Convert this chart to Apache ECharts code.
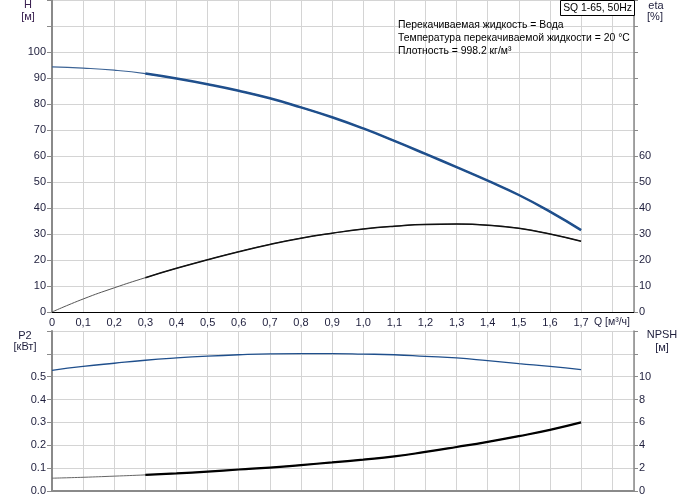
<!DOCTYPE html>
<html>
<head>
<meta charset="utf-8">
<script src="https://cdn.jsdelivr.net/npm/echarts@6/dist/echarts.min.js"></script>
<style>html,body{margin:0;padding:0;background:#fff;}#c{width:691px;height:500px;}</style>
</head>
<body>
<div id="c"></div>
<script>
// Flow Q [m3/h]
const Q = [0, 0.1, 0.2, 0.3, 0.4, 0.5, 0.6, 0.7, 0.8, 0.9, 1.0, 1.1, 1.2, 1.3, 1.4, 1.5, 1.6, 1.7];
// Head H [m]
const H = [94.3, 93.8, 93.0, 91.7, 89.8, 87.6, 85.1, 82.2, 78.7, 74.9, 70.6, 65.8, 60.8, 55.7, 50.5, 45.0, 38.6, 31.5];
// Efficiency eta [%]
const ETA = [0, 5.0, 9.3, 13.2, 16.8, 20.1, 23.2, 26.0, 28.4, 30.3, 31.9, 33.0, 33.7, 33.8, 33.4, 32.2, 30.0, 27.2];
// Power P2 [kW]
const P2 = [0.528, 0.545, 0.559, 0.572, 0.582, 0.590, 0.596, 0.600, 0.601, 0.601, 0.599, 0.596, 0.589, 0.582, 0.570, 0.557, 0.545, 0.531];
// NPSH [m]
const NPSH = [1.12, 1.2, 1.3, 1.41, 1.54, 1.7, 1.88, 2.05, 2.27, 2.5, 2.75, 3.03, 3.42, 3.85, 4.3, 4.8, 5.35, 6.0];

const START_THICK = 3; // index where the bold part of the curves begins

const pairs = (ys, from) => Q.map((q, i) => [q, ys[i]]).slice(from || 0);

const FONT = 'Liberation Sans, Arial, sans-serif';
const TXT = '#1e1e3c';
const GRID_C = '#d4d4d4';
const AXIS_C = '#8a8a8a';
const BLUE = '#1f4f8c';

const xFmt = v => {
  if (v > 1.75) return '';
  if (Math.abs(v) < 1e-9) return '0';
  return v.toFixed(1).replace('.', ',');
};

const chart = echarts.init(document.getElementById('c'), null, {renderer: 'canvas'});

chart.setOption({
  animation: false,
  backgroundColor: '#fff',
  textStyle: {fontFamily: FONT},
  grid: [
    {left: 52, right: 57, top: 0, height: 312},
    {left: 52, right: 57, top: 331, height: 160}
  ],
  xAxis: [
    {
      gridIndex: 0, type: 'value', min: 0, max: 1.87, interval: 0.1,
      axisLine: {lineStyle: {color: '#000', width: 1}},
      axisTick: {show: false},
      axisLabel: {formatter: xFmt, color: TXT, fontSize: 11, fontFamily: FONT, margin: 5, showMaxLabel: false},
      splitLine: {show: true, lineStyle: {color: GRID_C, width: 1}}
    },
    {
      gridIndex: 1, type: 'value', min: 0, max: 1.87, interval: 0.1,
      axisLine: {lineStyle: {color: AXIS_C, width: 2}},
      axisTick: {show: false},
      axisLabel: {show: false},
      splitLine: {show: true, lineStyle: {color: GRID_C, width: 1}}
    }
  ],
  yAxis: [
    {
      gridIndex: 0, type: 'value', min: 0, max: 120, interval: 10, position: 'left',
      axisLine: {show: true, lineStyle: {color: AXIS_C, width: 2}},
      axisTick: {show: true, length: 5, lineStyle: {color: AXIS_C}},
      axisLabel: {formatter: v => v <= 100 ? String(v) : '', color: TXT, fontSize: 11, fontFamily: FONT, margin: 6},
      splitLine: {show: true, lineStyle: {color: GRID_C, width: 1}}
    },
    {
      gridIndex: 0, type: 'value', min: 0, max: 120, interval: 10, position: 'right',
      axisLine: {show: true, lineStyle: {color: AXIS_C, width: 1.5}},
      axisTick: {show: true, length: 4, lineStyle: {color: AXIS_C}},
      axisLabel: {formatter: v => v <= 60 ? String(v) : '', color: TXT, fontSize: 11, fontFamily: FONT, margin: 5},
      splitLine: {show: false}
    },
    {
      gridIndex: 1, type: 'value', min: 0, max: 0.7, interval: 0.1, position: 'left',
      axisLine: {show: true, lineStyle: {color: AXIS_C, width: 2}},
      axisTick: {show: true, length: 5, lineStyle: {color: AXIS_C}},
      axisLabel: {formatter: v => v <= 0.5 + 1e-9 ? v.toFixed(1) : '', color: TXT, fontSize: 11, fontFamily: FONT, margin: 6},
      splitLine: {show: true, lineStyle: {color: GRID_C, width: 1}}
    },
    {
      gridIndex: 1, type: 'value', min: 0, max: 14, interval: 2, position: 'right',
      axisLine: {show: true, lineStyle: {color: AXIS_C, width: 1.5}},
      axisTick: {show: true, length: 4, lineStyle: {color: AXIS_C}},
      axisLabel: {formatter: v => v <= 10 ? String(v) : '', color: TXT, fontSize: 11, fontFamily: FONT, margin: 5},
      splitLine: {show: false}
    }
  ],
  series: [
    {name: 'H thin', type: 'line', xAxisIndex: 0, yAxisIndex: 0, data: pairs(H), smooth: true, showSymbol: false,
      lineStyle: {color: '#3d6496', width: 1.2}},
    {name: 'H', type: 'line', xAxisIndex: 0, yAxisIndex: 0, data: pairs(H, START_THICK), smooth: true, showSymbol: false,
      lineStyle: {color: BLUE, width: 2.5}},
    {name: 'eta thin', type: 'line', xAxisIndex: 0, yAxisIndex: 1, data: pairs(ETA), smooth: true, showSymbol: false,
      lineStyle: {color: '#555', width: 1}},
    {name: 'eta', type: 'line', xAxisIndex: 0, yAxisIndex: 1, data: pairs(ETA, START_THICK), smooth: true, showSymbol: false,
      lineStyle: {color: '#111', width: 1.5}},
    {name: 'P2', type: 'line', xAxisIndex: 1, yAxisIndex: 2, data: pairs(P2), smooth: true, showSymbol: false,
      lineStyle: {color: BLUE, width: 1.3}},
    {name: 'NPSH thin', type: 'line', xAxisIndex: 1, yAxisIndex: 3, data: pairs(NPSH), smooth: true, showSymbol: false,
      lineStyle: {color: '#666', width: 1}},
    {name: 'NPSH', type: 'line', xAxisIndex: 1, yAxisIndex: 3, data: pairs(NPSH, START_THICK), smooth: true, showSymbol: false,
      lineStyle: {color: '#000', width: 2.2}}
  ],
  graphic: [
    {type: 'text', z: 100, style: {text: 'H', x: 28, y: 5, align: 'center', verticalAlign: 'middle', font: '11px ' + FONT, fill: '#3a2050'}},
    {type: 'text', z: 100, style: {text: '[м]', x: 28, y: 17, align: 'center', verticalAlign: 'middle', font: '11px ' + FONT, fill: '#3a2050'}},
    {type: 'text', z: 100, style: {text: 'eta', x: 656, y: 6, align: 'center', verticalAlign: 'middle', font: '11px ' + FONT, fill: TXT}},
    {type: 'text', z: 100, style: {text: '[%]', x: 655, y: 17, align: 'center', verticalAlign: 'middle', font: '11px ' + FONT, fill: TXT}},
    {type: 'text', z: 100, style: {text: 'P2', x: 25, y: 336, align: 'center', verticalAlign: 'middle', font: '11px ' + FONT, fill: TXT}},
    {type: 'text', z: 100, style: {text: '[кВт]', x: 25, y: 347, align: 'center', verticalAlign: 'middle', font: '11px ' + FONT, fill: TXT}},
    {type: 'text', z: 100, style: {text: 'NPSH', x: 662, y: 335, align: 'center', verticalAlign: 'middle', font: '11px ' + FONT, fill: TXT}},
    {type: 'text', z: 100, style: {text: '[м]', x: 662, y: 348, align: 'center', verticalAlign: 'middle', font: '11px ' + FONT, fill: TXT}},
    {type: 'text', z: 100, style: {text: 'Q [м³/ч]', x: 612, y: 322, align: 'center', verticalAlign: 'middle', font: '10.5px ' + FONT, fill: TXT}},
    {type: 'text', z: 100, style: {text: 'Перекачиваемая жидкость = Вода', x: 398, y: 25, align: 'left', verticalAlign: 'middle', font: '10.4px ' + FONT, fill: '#000'}},
    {type: 'text', z: 100, style: {text: 'Температура перекачиваемой жидкости = 20 °C', x: 398, y: 38, align: 'left', verticalAlign: 'middle', font: '10.4px ' + FONT, fill: '#000'}},
    {type: 'text', z: 100, style: {text: 'Плотность = 998.2 кг/м³', x: 398, y: 51.5, align: 'left', verticalAlign: 'middle', font: '10.4px ' + FONT, fill: '#000'}},
    {type: 'rect', z: 100, shape: {x: 560.5, y: 0.5, width: 74, height: 15}, style: {fill: '#fff', stroke: '#000', lineWidth: 1}},
    {type: 'text', z: 101, style: {text: 'SQ 1-65, 50Hz', x: 597.5, y: 8, align: 'center', verticalAlign: 'middle', font: '10.4px ' + FONT, fill: '#000'}}
  ]
});
</script>
</body>
</html>
